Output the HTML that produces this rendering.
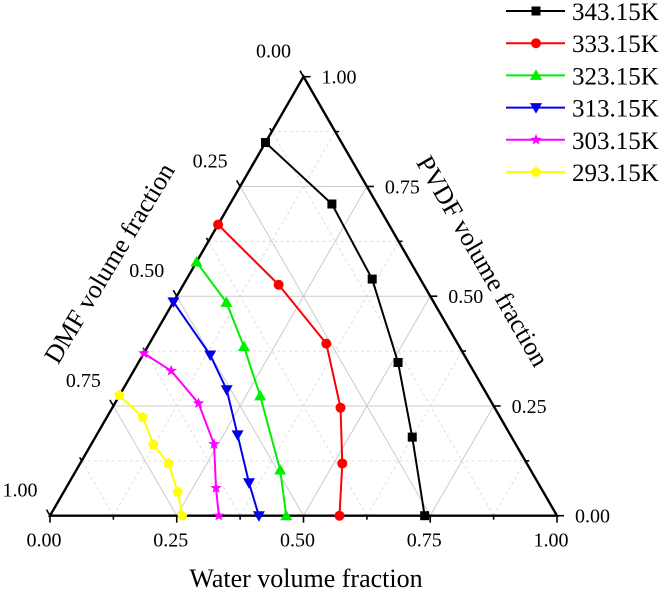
<!DOCTYPE html>
<html><head><meta charset="utf-8"><style>
body{margin:0;background:#fff;width:666px;height:593px;overflow:hidden}
svg{display:block;font-family:"Liberation Serif",serif}
</style></head><body>
<svg id="c" width="666" height="593" viewBox="0 0 666 593" xmlns="http://www.w3.org/2000/svg"></svg>
<script>
const seriesNames=["343.15K","333.15K","323.15K","313.15K","303.15K","293.15K"];
const seriesColors=["#000000","#ff0000","#00ee00","#0000ee","#ff00ff","#ffff00"];
const seriesMarkers=["square","circle","tri-up","tri-down","star","pentagon"];
const water343=[0,0.201,0.366,0.512,0.625,0.739];
const pvdf343=[0.85,0.71,0.539,0.349,0.179,0];
const water333=[0,0.188,0.349,0.45,0.517,0.571];
const pvdf333=[0.663,0.526,0.392,0.246,0.119,0];
const water323=[0,0.105,0.19,0.278,0.402,0.466];
const pvdf323=[0.578,0.486,0.385,0.273,0.104,0];
const water313=[0,0.133,0.205,0.278,0.355,0.412];
const pvdf313=[0.487,0.366,0.287,0.184,0.075,0];
const water303=[0,0.074,0.165,0.242,0.296,0.333];
const pvdf303=[0.37,0.33,0.256,0.163,0.063,0];
const water293=[0,0.071,0.123,0.174,0.225,0.261];
const pvdf293=[0.274,0.224,0.162,0.119,0.054,0];
const tickValues=[0,0.25,0.5,0.75,1];
const tickLabels=["0.00","0.25","0.50","0.75","1.00"];

const NS="http://www.w3.org/2000/svg";
const svg=document.getElementById('c');
const L={x:50,y:515.7},R={x:557,y:515.7},T={x:303.5,y:76.7};
function pos(w,p){const d=1-w-p;return {x:d*L.x+w*R.x+p*T.x,y:d*L.y+w*R.y+p*T.y};}
function mk(tag,attrs,parent){const e=document.createElementNS(NS,tag);for(const k in attrs)e.setAttribute(k,attrs[k]);(parent||svg).appendChild(e);return e;}

const grid=mk('g',{});


for(let i=1;i<8;i++){
  const v=i/8;const major=i%2===0;
  const st=major?{stroke:'#cccccc','stroke-width':1}:{stroke:'#dddddd','stroke-width':1,'stroke-dasharray':'3,3'};
  let a=pos(0,v),b=pos(1-v,v);mk('line',Object.assign({x1:a.x,y1:a.y,x2:b.x,y2:b.y},st),grid);
  a=pos(v,0);b=pos(v,1-v);mk('line',Object.assign({x1:a.x,y1:a.y,x2:b.x,y2:b.y},st),grid);
  a=pos(v,0);b=pos(0,v);mk('line',Object.assign({x1:a.x,y1:a.y,x2:b.x,y2:b.y},st),grid);
}
const tri=mk('polygon',{points:`${L.x},${L.y} ${R.x},${R.y} ${T.x},${T.y}`,fill:'none',stroke:'#000','stroke-width':2.4});



for(let i=0;i<=8;i++){
  const v=i/8,len=i%2===0?7:4;
  let a=pos(v,0);mk('line',{x1:a.x,y1:a.y,x2:a.x,y2:a.y+len,stroke:'#000','stroke-width':1.6});
  a=pos(1-v,v);mk('line',{x1:a.x,y1:a.y,x2:a.x+len,y2:a.y,stroke:'#000','stroke-width':1.6});
  a=pos(0,1-v);mk('line',{x1:a.x,y1:a.y,x2:a.x-len*0.5,y2:a.y-len*0.87,stroke:'#000','stroke-width':1.6});
}
function txt(x,y,s,size,name,anchor){const t=mk('text',{x:x,y:y,'font-size':size,'text-anchor':anchor||'middle',fill:'#000'});t.textContent=s;


return t;}
tickValues.forEach((v,i)=>{
  let a=pos(v,0);txt(a.x-6,a.y+31,tickLabels[i],20,'bottom-tick-label');
  a=pos(1-v,v);txt(a.x+18,a.y+7,tickLabels[i],20,'right-tick-label','start');
  a=pos(0,1-v);txt(a.x-30,a.y-19,tickLabels[i],20,'left-tick-label');
});
txt(306,587,'Water volume fraction',26,'x-axis-title');
let t=txt(0,9,'DMF volume fraction',26,'left-axis-title');t.setAttribute('transform','translate(109,263) rotate(-59)');
t=txt(0,9,'PVDF volume fraction',26,'right-axis-title');t.setAttribute('transform','translate(483,261) rotate(60)');

function marker(g,type,x,y,c){
  let e;
  if(type==='square')e=mk('rect',{x:x-4.5,y:y-4.5,width:9,height:9,fill:c},g);
  else if(type==='circle')e=mk('circle',{cx:x,cy:y,r:5,fill:c},g);
  else if(type==='tri-up')e=mk('polygon',{points:`${x},${y-6} ${x-6},${y+4.5} ${x+6},${y+4.5}`,fill:c},g);
  else if(type==='tri-down')e=mk('polygon',{points:`${x},${y+6} ${x-6},${y-4.5} ${x+6},${y-4.5}`,fill:c},g);
  else{let pts=[];const star=type==='star';
    for(let k=0;k<(star?10:5);k++){const ang=-Math.PI/2+k*Math.PI*2/(star?10:5);const r=star?(k%2?2.5:6):5.5;pts.push((x+r*Math.cos(ang))+','+(y+r*Math.sin(ang)));}
    e=mk('polygon',{points:pts.join(' '),fill:c},g);}
  return e;
}
const waters=[water343,water333,water323,water313,water303,water293];
const pvdfs=[pvdf343,pvdf333,pvdf323,pvdf313,pvdf303,pvdf293];
seriesNames.forEach((nm,si)=>{
  const g=mk('g',{});
  
  
  const pts=waters[si].map((w,i)=>pos(w,pvdfs[si][i]));
  mk('polyline',{points:pts.map(p=>p.x+','+p.y).join(' '),fill:'none',stroke:seriesColors[si],'stroke-width':2},g);
  pts.forEach(p=>{const m=marker(g,seriesMarkers[si],p.x,p.y,seriesColors[si]);
    
    });
  const lg=mk('g',{});
  
  
  const ly=11+si*32.2;
  mk('line',{x1:506,y1:ly,x2:565,y2:ly,stroke:seriesColors[si],'stroke-width':2},lg);
  marker(lg,seriesMarkers[si],536,ly,seriesColors[si]);
  const lt=mk('text',{x:572,y:ly+9,'font-size':25,fill:'#000'},lg);lt.textContent=nm;
});
</script>
</body></html>
